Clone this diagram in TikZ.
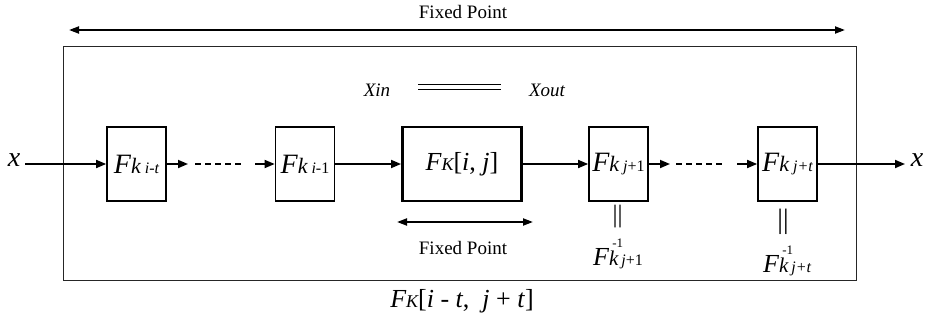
\documentclass[tikz,border=0pt]{standalone}
\usepackage{fontspec}
\setmainfont{Liberation Serif}
\usetikzlibrary{arrows.meta}
\newcommand{\fsz}[1]{\fontsize{#1}{#1}\selectfont}
\newcommand{\Fk}[1]{{\fsz{28}\itshape F}{\fsz{22}\itshape k}\hspace{4pt}{\fsz{16}#1}}
\newcommand{\Finv}[1]{{\fsz{26}\itshape F}{\fsz{21}\itshape k}\rlap{\kern-6pt\raisebox{18pt}{\fsz{13}-1}}\hspace{3pt}{\fsz{16}#1}}
\begin{document}
\begin{tikzpicture}[x=1pt,y=1pt,
  fbox/.style={draw, line width=1.7pt, minimum width=59pt, minimum height=74pt, inner sep=0pt},
  mainbox/.style={draw, line width=2.9pt, minimum width=119pt, minimum height=74pt, inner sep=0pt},
  flow/.style={line width=1.7pt, -{Triangle[length=10pt,width=8pt]}},
  both/.style={line width=1.9pt, {Triangle[length=10pt,width=7pt]}-{Triangle[length=10pt,width=7pt]}},
  dots/.style={line width=1.7pt, dash pattern=on 6pt off 4pt},
  lbl/.style={inner sep=0pt, font=\fsz{19}}]
\useasboundingbox (0,0) rectangle (932,325);
% outer frame
\draw[line width=0.8pt, black!85] (63,45) rectangle (856,279);
% top fixed point
\node[lbl] (fpt) at (463,313) {Fixed Point};
\coordinate (tl) at (69,295);
\coordinate (tr) at (845,295);
\draw[both] (tl) -- (tr);
% Xin = Xout
\node[lbl, anchor=base] (xin) at (377,229) {\fsz{19}\itshape Xin};
\node[lbl, anchor=base] (xout) at (547,229) {\fsz{19}\itshape Xout};
\coordinate (dl) at (418,238);
\coordinate (dr) at (501,238);
\draw[double, double distance=4.6pt, line width=0.9pt] (dl) -- (dr);
% boxes
\node[fbox] (b1) at (136.5,161) {\raisebox{-4pt}{\Fk{\itshape i-t}}};
\node[fbox] (b2) at (305,161) {\raisebox{-4pt}{\Fk{{\itshape i}-1}}};
\node[mainbox] (m) at (462,161) {\raisebox{-3pt}{{\fsz{26}\itshape F}{\fsz{18}\itshape K}{\fsz{26}[\textit{i}, \textit{j}]}}};
\node[fbox] (b3) at (618.5,161) {\raisebox{-4pt}{\Fk{{\itshape j}+1}}};
\node[fbox] (b4) at (787.5,161) {\raisebox{-4pt}{\Fk{\itshape j+t}}};
% input / output
\node[lbl, anchor=base] (xa) at (14,159) {\fsz{28}\itshape x};
\node[lbl, anchor=base] (xb) at (917,159) {\fsz{28}\itshape x};
\coordinate (xs) at (25,161);
\coordinate (xe) at (905,161);
\draw[flow] (xs) -- (b1.west);
\draw[flow] (b4.east) -- (xe);
% chain
\coordinate (c1) at (188,161);
\coordinate (c2) at (195,161);
\coordinate (c3) at (243,161);
\coordinate (c4) at (255,161);
\draw[flow] (b1.east) -- (c1);
\draw[dots] (c2) -- (c3);
\draw[flow] (c4) -- (b2.west);
\draw[flow] (b2.east) -- (m.west);
\draw[flow] (m.east) -- (b3.west);
\coordinate (c5) at (670,161);
\coordinate (c6) at (676,161);
\coordinate (c7) at (725,161);
\coordinate (c8) at (737,161);
\draw[flow] (b3.east) -- (c5);
\draw[dots] (c6) -- (c7);
\draw[flow] (c8) -- (b4.west);
% inverse labels
\node[lbl] (eq1) at (617.5,108.5) {\fsz{25}||};
\node[lbl] (eq2) at (783,103) {\fsz{28}||};
\node[lbl, anchor=base west] (inv1) at (593,60) {\Finv{{\itshape j}+1}};
\node[lbl, anchor=base west] (inv2) at (763,53) {\Finv{\itshape j+t}};
% lower fixed point
\coordinate (fl) at (397,103);
\coordinate (fr) at (533,103);
\draw[both] (fl) -- (fr);
\node[lbl] (fpb) at (463,77) {Fixed Point};
% bottom label
\node[lbl, anchor=base] (bot) at (462,18) {{\fsz{26}\itshape F}{\fsz{18}\itshape K}{\fsz{26}[\textit{i} - \textit{t}, \ \textit{j} + \textit{t}]}};
\end{tikzpicture}
\end{document}
